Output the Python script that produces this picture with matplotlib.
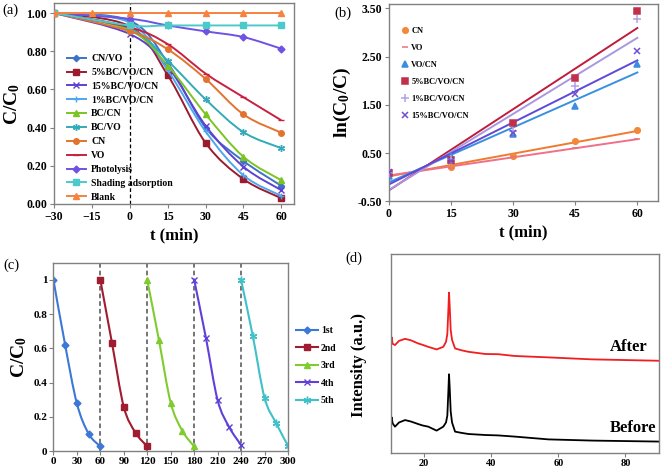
import numpy as np
import matplotlib
matplotlib.use('Agg')
import matplotlib.pyplot as plt
from matplotlib.path import Path
from matplotlib.patches import PathPatch
from matplotlib.lines import Line2D

plt.rcParams['font.family'] = ['Liberation Serif', 'DejaVu Serif']
plt.rcParams['font.weight'] = 'bold'
plt.rcParams['mathtext.fontset'] = 'custom'
plt.rcParams['mathtext.rm'] = 'Liberation Serif:bold'
plt.rcParams['mathtext.it'] = 'Liberation Serif:bold'
plt.rcParams['mathtext.bf'] = 'Liberation Serif:bold'

# ---------------- data: panel (a) ----------------
t_a = [-30, 0, 15, 30, 45, 60]
t_blank = [-30, -15, 0, 15, 30, 45, 60]
a_cn_vo = [1.00, 0.96, 0.74, 0.40, 0.225, 0.095]
a_bc5 = [1.00, 0.93, 0.675, 0.32, 0.13, 0.03]
a_bc15 = [1.00, 0.89, 0.72, 0.41, 0.195, 0.072]
a_bc1 = [1.00, 0.95, 0.70, 0.38, 0.15, 0.042]
a_bc_cn = [1.00, 0.91, 0.725, 0.47, 0.247, 0.124]
a_bc_vo = [1.00, 0.92, 0.75, 0.548, 0.376, 0.292]
a_cn = [1.00, 0.905, 0.81, 0.655, 0.469, 0.373]
a_vo = [1.00, 0.925, 0.837, 0.683, 0.559, 0.438]
a_photolysis = [1.00, 0.97, 0.935, 0.904, 0.874, 0.813]
a_shading = [1.00, 0.935, 0.935, 0.935, 0.935, 0.935]
a_blank = [1.00, 1.00, 1.00, 1.00, 1.00, 1.00, 1.00]
a_labels = ['CN/VO', '5%BC/VO/CN', '15%BC/VO/CN', '1%BC/VO/CN', 'BC/CN', 'BC/VO',
            'CN', 'VO', 'Photolysis', 'Shading adsorption', 'Blank']

# ---------------- data: panel (b) ----------------
t_b = [0, 15, 30, 45, 60]
b_cn = [0.06, 0.22, 0.44, 0.75, 0.97]
b_vo = [0.07, 0.18, 0.41, 0.60, 0.80]
b_vocn = [0.02, 0.43, 0.89, 1.48, 2.34]
b_bc5 = [0.08, 0.36, 1.12, 2.05, 3.44]
b_bc1 = [0.08, 0.38, 0.95, 1.88, 3.27]
b_bc15 = [0.10, 0.33, 0.91, 1.72, 2.62]
b_labels = ['CN', 'VO', 'VO/CN', '5%BC/VO/CN', '1%BC/VO/CN', '15%BC/VO/CN']

# ---------------- data: panel (c) ----------------
c_t1 = [0, 15, 30, 45, 60]
c_t2 = [60, 75, 90, 105, 120]
c_t3 = [120, 135, 150, 165, 180]
c_t4 = [180, 195, 210, 225, 240]
c_t5 = [240, 255, 270, 285, 300]
c_run1 = [1.00, 0.62, 0.278, 0.101, 0.027]
c_run2 = [1.00, 0.629, 0.258, 0.107, 0.027]
c_run3 = [1.00, 0.647, 0.282, 0.117, 0.027]
c_run4 = [1.00, 0.662, 0.297, 0.138, 0.035]
c_run5 = [1.00, 0.672, 0.311, 0.161, 0.031]
c_labels = ['1st', '2nd', '3rd', '4th', '5th']
c_cycle_ends = [60, 120, 180, 240]

# ---------------- data: panel (d) ----------------
d_theta = [10, 10.3, 10.6, 11.3, 12.5, 14.3, 16, 18.2, 19.5, 21.2, 23.7, 25.7, 26.5,
           26.9, 27.2, 27.4, 27.6, 27.9, 28.3, 29.2, 31, 33.2, 38.2, 42, 47, 57, 70, 90]
d_after = [51.9, 58.3, 55.0, 54.4, 56.5, 57.5, 56.8, 55.2, 54.5, 53.5, 52.2, 53.5, 56.0,
           60.0, 72.0, 80.7, 74.0, 62.0, 57.0, 52.7, 51.8, 51.0, 49.9, 49.8, 48.9, 48.2, 47.2, 46.5]
d_before = [13.4, 18.1, 15.0, 13.4, 15.5, 16.7, 16.0, 14.7, 14.0, 13.4, 11.4, 13.4, 15.5,
            19.0, 31.0, 39.7, 33.0, 21.0, 15.5, 10.9, 10.3, 9.7, 9.2, 9.0, 8.4, 7.0, 6.4, 5.9]

SPINE = '#808080'
TICK = 8.5


def smooth_path(x, y):
    pts = np.column_stack([np.asarray(x, float), np.asarray(y, float)])
    n = len(pts)
    verts = [pts[0]]
    codes = [Path.MOVETO]
    for i in range(n - 1):
        p0 = pts[max(i - 1, 0)]
        p1 = pts[i]
        p2 = pts[i + 1]
        p3 = pts[min(i + 2, n - 1)]
        c1 = p1 + (p2 - p0) / 6.0
        c2 = p2 - (p3 - p1) / 6.0
        verts += [c1, c2, p2]
        codes += [Path.CURVE4] * 3
    return Path(verts, codes)


def smooth_series(ax, x, y, color, marker, ms, lw=1.4, mew=1.0, z=2):
    ax.add_patch(PathPatch(smooth_path(x, y), fill=False, edgecolor=color, lw=lw, zorder=z))
    ax.plot(x, y, linestyle='none', marker=marker, ms=ms, color=color, mec=color,
            mfc=color, mew=mew, zorder=z + 0.1)
    return Line2D([], [], color=color, lw=lw, marker=marker, ms=ms, mew=mew)


def style(ax, tick_size=TICK, pad=2):
    for s in ax.spines.values():
        s.set_color(SPINE)
        s.set_linewidth(1.0)
    ax.tick_params(direction='out', length=3, width=0.8, color=SPINE,
                   labelsize=tick_size, pad=pad)
    for lab in ax.get_xticklabels() + ax.get_yticklabels():
        lab.set_fontweight('bold')


fig = plt.figure(figsize=(6.61, 4.70), dpi=100)

# ================= panel (a) =================
axA = fig.add_axes([0.0817, 0.566, 0.3631, 0.4266])
axA.set_xlim(-30, 65)
axA.set_ylim(0, 1.05)
axA.axvline(0, color='black', lw=0.9, ls=(0, (3, 2)), zorder=1)
a_series = [
    (t_a, a_cn_vo, '#3c73c8', 'D', 3.2),
    (t_a, a_bc5, '#9c1a2e', 's', 3.8),
    (t_a, a_bc15, '#6040d0', 'x', 4.0),
    (t_a, a_bc1, '#4fa6ec', '+', 5.0),
    (t_a, a_bc_cn, '#7cc423', '^', 4.0),
    (t_a, a_bc_vo, '#33aab8', (6, 2, 0), 5.0),
    (t_a, a_cn, '#e2732e', 'o', 4.0),
    (t_a, a_vo, '#c8203f', '_', 4.0),
    (t_a, a_photolysis, '#7052e3', 'D', 3.5),
    (t_a, a_shading, '#4ccaca', 's', 4.0),
    (t_blank, a_blank, '#f5823f', '^', 4.5),
]
a_handles = []
for i, (x, y, c, m, ms) in enumerate(a_series):
    a_handles.append(smooth_series(axA, x, y, c, m, ms, z=2 + i * 0.2))
axA.set_xticks([-30, -15, 0, 15, 30, 45, 60])
axA.set_yticks(np.arange(0, 1.01, 0.2))
axA.set_yticklabels([f'{v:.2f}' for v in np.arange(0, 1.01, 0.2)])
style(axA)
axA.set_xlabel('t (min)', fontsize=12, fontweight='bold', labelpad=3)
axA.set_ylabel('C/C$_0$', fontsize=14, fontweight='bold', labelpad=3)
axA.legend(a_handles, a_labels, loc='upper left', bbox_to_anchor=(0.101, 0.885),
           bbox_transform=fig.transFigure, frameon=False,
           prop={'weight': 'bold', 'size': 7}, labelspacing=0.5, handlelength=2.0,
           handletextpad=0.5, borderpad=0, borderaxespad=0)

# ================= panel (b) =================
axB = fig.add_axes([0.5885, 0.5717, 0.407, 0.4198])
axB.set_xlim(0, 65)
axB.set_ylim(-0.5, 3.59)
b_series = [
    (b_cn, '#f2883a', 'o', 4.0, '#f07a2e'),
    (b_vo, '#e8707e', '_', 5.0, '#f07088'),
    (b_vocn, '#3c8ce0', '^', 4.5, '#3a90e0'),
    (b_bc5, '#c0304a', 's', 4.5, '#c01c3c'),
    (b_bc1, '#b0a0e8', '+', 5.5, '#a898e0'),
    (b_bc15, '#7050d0', 'x', 4.5, '#6048d8'),
]
b_handles = []
tb = np.asarray(t_b, float)
for y, mc, m, ms, lc in b_series:
    slope, icpt = np.polyfit(tb, y, 1)
    axB.plot([tb[0], tb[-1]], [icpt + slope * tb[0], icpt + slope * tb[-1]],
             color=lc, lw=1.4, zorder=2)
    axB.plot(t_b, y, linestyle='none', marker=m, ms=ms, color=mc, mew=1.1, zorder=3)
    b_handles.append(Line2D([], [], linestyle='none', marker=m, ms=ms, color=mc, mew=1.1))
axB.set_xticks([0, 15, 30, 45, 60])
axB.set_yticks([-0.5, 0.5, 1.5, 2.5, 3.5])
axB.set_yticklabels([f'{v:.2f}' for v in [-0.5, 0.5, 1.5, 2.5, 3.5]])
style(axB)
axB.set_xlabel('t (min)', fontsize=12, fontweight='bold', labelpad=3)
axB.set_ylabel('ln(C$_0$/C)', fontsize=14, fontweight='bold', labelpad=3)
axB.legend(b_handles, b_labels, loc='upper left', bbox_to_anchor=(0.606, 0.942),
           bbox_transform=fig.transFigure, frameon=False,
           prop={'weight': 'bold', 'size': 6}, labelspacing=1.08, handlelength=1.0,
           handletextpad=0.3, borderpad=0, borderaxespad=0, numpoints=1)

# ================= panel (c) =================
axC = fig.add_axes([0.0808, 0.0404, 0.3549, 0.4006])
axC.set_xlim(0, 300)
axC.set_ylim(0, 1.1)
for xe in c_cycle_ends:
    axC.axvline(xe, color='#505050', lw=1.1, ls=(0, (3, 2)), zorder=1)
c_series = [
    (c_t1, c_run1, '#3c78d8', 'D', 3.5),
    (c_t2, c_run2, '#a01c30', 's', 4.0),
    (c_t3, c_run3, '#80cc30', '^', 4.5),
    (c_t4, c_run4, '#6040d8', 'x', 4.5),
    (c_t5, c_run5, '#40c0c8', (6, 2, 0), 5.5),
]
c_handles = []
for x, y, c, m, ms in c_series:
    c_handles.append(smooth_series(axC, x, y, c, m, ms, lw=1.5))
axC.set_xticks(np.arange(0, 301, 30))
axC.set_yticks([0, 0.2, 0.4, 0.6, 0.8, 1.0])
axC.set_yticklabels(['0', '0.2', '0.4', '0.6', '0.8', '1'])
style(axC, tick_size=8, pad=1.5)
axC.set_ylabel('C/C$_0$', fontsize=14, fontweight='bold', labelpad=3)
axC.legend(c_handles, c_labels, loc='upper left', bbox_to_anchor=(0.448, 0.306),
           bbox_transform=fig.transFigure, frameon=False,
           prop={'weight': 'bold', 'size': 7}, labelspacing=0.87, handlelength=2.3,
           handletextpad=0.25, borderpad=0, borderaxespad=0)

# ================= panel (d) =================
axD = fig.add_axes([0.591, 0.0355, 0.406, 0.4235])
axD.set_xlim(10, 90)
axD.set_ylim(0, 100)
axD.plot(d_theta, d_after, color='#f01e1e', lw=1.3)
axD.plot(d_theta, d_before, color='black', lw=1.3)
axD.set_xticks([20, 40, 60, 80])
axD.set_yticks([])
style(axD, tick_size=7.5, pad=1)
axD.text(75.3, 53.3, 'After', fontsize=12, fontweight='bold', va='center', ha='left')
axD.text(75.3, 12.9, 'Before', fontsize=12, fontweight='bold', va='center', ha='left')
axD.set_ylabel('Intensity (a.u.)', fontsize=12, fontweight='bold')
axD.yaxis.set_label_coords(-0.088, 0.444)

# panel letters
for txt, xp, yp in [('(a)', 2, 10), ('(b)', 334, 13), ('(c)', 3, 265), ('(d)', 345, 258)]:
    fig.text(xp / 661, 1 - yp / 470, txt, fontsize=10.5, fontweight='normal',
             ha='left', va='center')

fig.savefig('out.png', dpi=100)
